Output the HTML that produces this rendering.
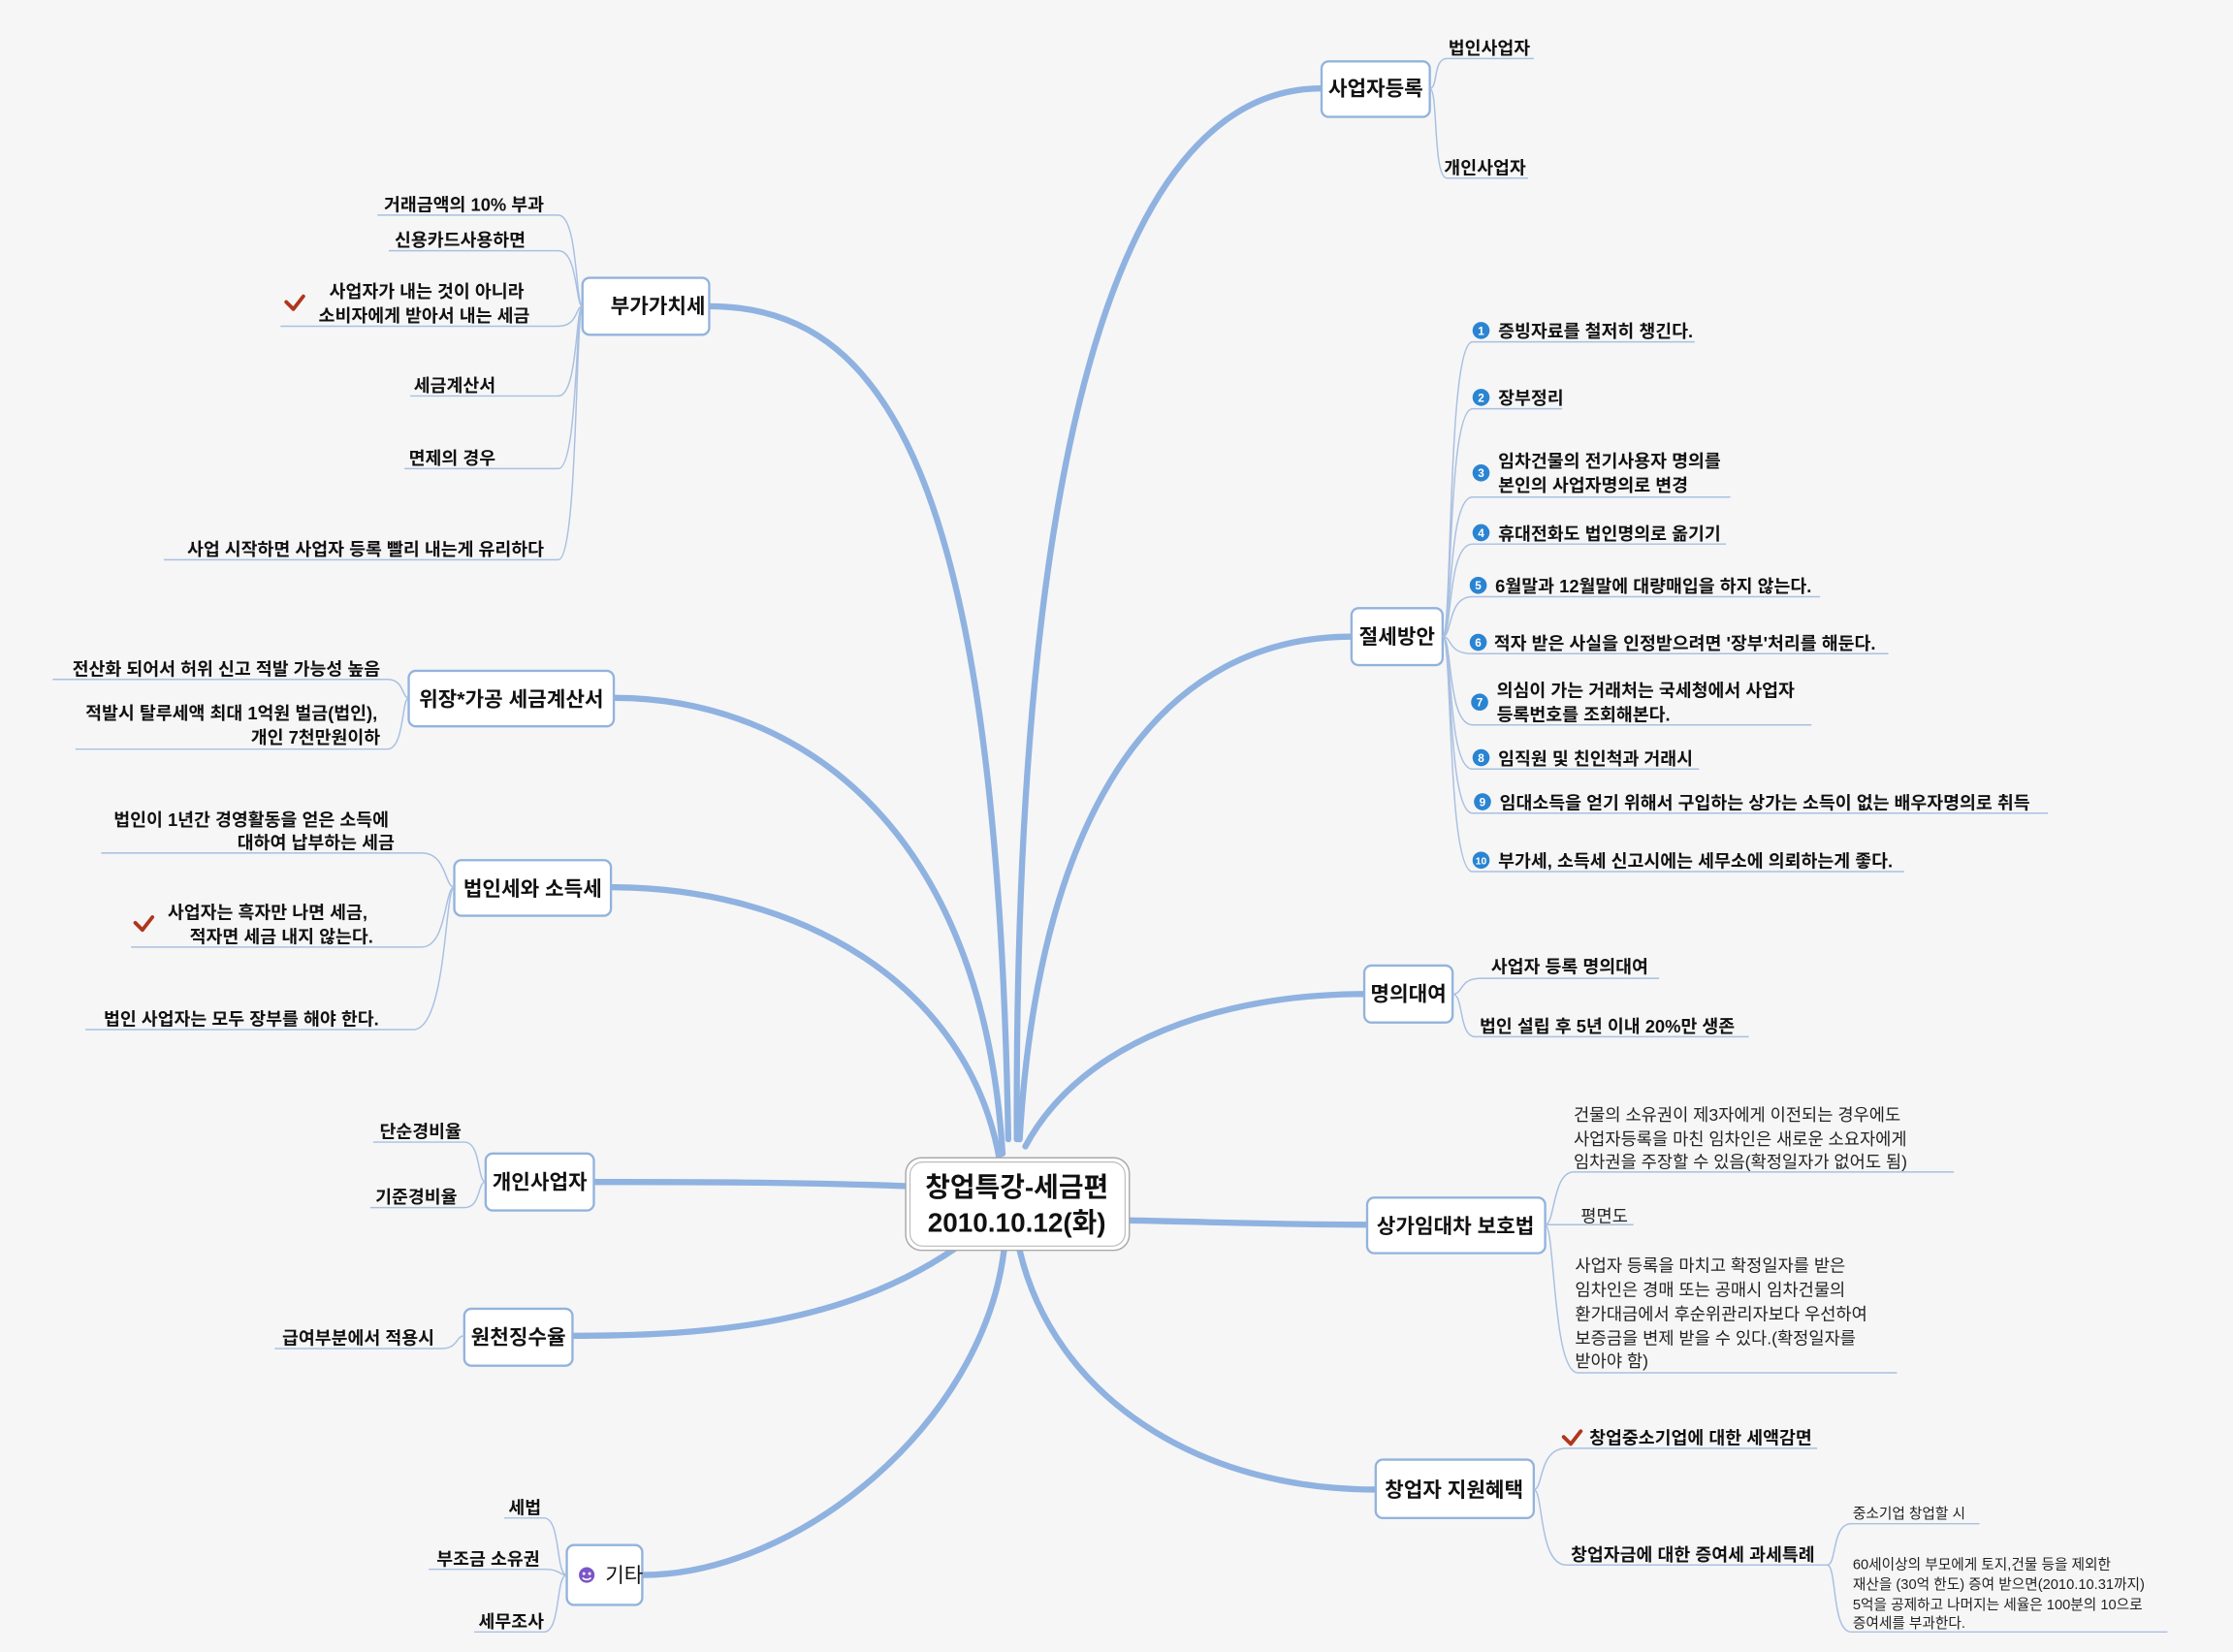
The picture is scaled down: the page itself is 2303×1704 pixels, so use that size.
<!DOCTYPE html>
<html><head><meta charset="utf-8"><style>
html,body{margin:0;padding:0;background:#f6f6f7;}
svg{display:block}
text{font-family:"Liberation Sans","Noto Sans CJK KR",sans-serif;fill:#111;}
.c{font-size:12.5px;font-weight:700}
.g{font-size:12px;font-weight:400;fill:#222}
.s{font-size:10px;font-weight:400;fill:#222}
.m{font-size:14.5px;font-weight:700}
.b{fill:none;stroke:#8fb2e0;stroke-width:4.3;stroke-linecap:round}
.t{fill:none;stroke:#a9c0e0;stroke-width:1}
.n{fill:#fff;stroke:#93b3dc;stroke-width:1.6}
.num{fill:#2a84d2}
.nt{font-size:8px;font-weight:700;fill:#fff;text-anchor:middle}
.ck{fill:none;stroke:#b0361c;stroke-width:2.6;stroke-linecap:round;stroke-linejoin:round}
</style></head><body>
<svg width="2303" height="1704" viewBox="0 0 1568 1160" xmlns="http://www.w3.org/2000/svg">
<rect width="1568" height="1160" fill="#f6f6f7"/>
<g class="b">
<path d="M714 800 C712 300 790 62 928 62"/>
<path d="M708 800 C700 330 620 215 498 215"/>
<path d="M704 810 C690 580 560 490 431 490"/>
<path d="M702 815 C680 690 560 623 429 623"/>
<path d="M640 833 C560 830 480 830 417 830"/>
<path d="M680 870 C600 930 500 938 402 938"/>
<path d="M705 878 C690 1000 560 1106 451 1106"/>
<path d="M716 800 C730 560 820 447 949 447"/>
<path d="M720 805 C760 730 860 698 958 698"/>
<path d="M792 857 C850 858 900 860 960 860"/>
<path d="M716 878 C740 980 840 1046 966 1046"/>
</g>
<rect x="636" y="813" width="157" height="65" rx="11" fill="#fff" stroke="#aaa" stroke-width="1"/>
<rect x="639" y="816" width="151" height="59" rx="9" fill="#fff" stroke="#bbb" stroke-width="0.8"/>
<text x="714" y="840" font-size="19" font-weight="700" text-anchor="middle">창업특강-세금편</text>
<text x="714" y="865" font-size="19" font-weight="700" text-anchor="middle">2010.10.12(화)</text>

<rect class="n" x="928" y="43" width="76" height="39" rx="5"/>
<text class="m" x="966" y="67" text-anchor="middle">사업자등록</text>
<path class="t" d="M1004 62 C1010 62 1006 41 1016 41 L1077 41"/>
<path class="t" d="M1004 62 C1010 62 1006 125 1016 125 L1073 125"/>
<text class="c" x="1017" y="38">법인사업자</text>
<text class="c" x="1014" y="122">개인사업자</text>

<rect class="n" x="409" y="195" width="89" height="40" rx="5"/>
<text class="m" x="462" y="220" text-anchor="middle">부가가치세</text>
<g class="t">
<path d="M409 215 C404 215 406 151 392 151 L265 151"/>
<path d="M409 215 C404 215 406 176 392 176 L273 176"/>
<path d="M409 215 C404 215 406 229 392 229 L197 229"/>
<path d="M409 215 C404 215 406 278 392 278 L288 278"/>
<path d="M409 215 C404 215 406 329 392 329 L284 329"/>
<path d="M409 215 C404 215 406 393 392 393 L115 393"/>
</g>
<text class="c" x="382" y="148" text-anchor="end">거래금액의 10% 부과</text>
<text class="c" x="369" y="173" text-anchor="end">신용카드사용하면</text>
<text class="c" x="368" y="209" text-anchor="end">사업자가 내는 것이 아니라</text>
<text class="c" x="372" y="226" text-anchor="end">소비자에게 받아서 내는 세금</text>
<path class="ck" d="M201 212 L206 217 L213 208"/>
<text class="c" x="348" y="275" text-anchor="end">세금계산서</text>
<text class="c" x="348" y="326" text-anchor="end">면제의 경우</text>
<text class="c" x="382" y="390" text-anchor="end">사업 시작하면 사업자 등록 빨리 내는게 유리하다</text>

<rect class="n" x="287" y="471" width="144" height="39" rx="5"/>
<text class="m" x="359" y="496" text-anchor="middle">위장*가공 세금계산서</text>
<g class="t">
<path d="M287 490 C282 490 284 477 272 477 L37 477"/>
<path d="M287 490 C282 490 284 526 272 526 L53 526"/>
</g>
<text class="c" x="267" y="474" text-anchor="end">전산화 되어서 허위 신고 적발 가능성 높음</text>
<text class="c" x="265" y="505" text-anchor="end">적발시 탈루세액 최대 1억원 벌금(법인),</text>
<text class="c" x="267" y="522" text-anchor="end">개인 7천만원이하</text>

<rect class="n" x="319" y="604" width="110" height="39" rx="5"/>
<text class="m" x="374" y="629" text-anchor="middle">법인세와 소득세</text>
<g class="t">
<path d="M319 623 C312 623 314 599 296 599 L71 599"/>
<path d="M319 623 C312 623 314 665 296 665 L92 665"/>
<path d="M319 623 C312 623 314 723 290 723 L60 723"/>
</g>
<text class="c" x="273" y="580" text-anchor="end">법인이 1년간 경영활동을 얻은 소득에</text>
<text class="c" x="277" y="596" text-anchor="end">대하여 납부하는 세금</text>
<path class="ck" d="M95 648 L100 653 L107 644"/>
<text class="c" x="258" y="645" text-anchor="end">사업자는 흑자만 나면 세금,</text>
<text class="c" x="262" y="662" text-anchor="end">적자면 세금 내지 않는다.</text>
<text class="c" x="266" y="720" text-anchor="end">법인 사업자는 모두 장부를 해야 한다.</text>

<rect class="n" x="341" y="810" width="76" height="40" rx="5"/>
<text class="m" x="379" y="835" text-anchor="middle">개인사업자</text>
<g class="t">
<path d="M341 830 C335 830 338 802 326 802 L262 802"/>
<path d="M341 830 C335 830 338 848 326 848 L260 848"/>
</g>
<text class="c" x="324" y="799" text-anchor="end">단순경비율</text>
<text class="c" x="321" y="845" text-anchor="end">기준경비율</text>

<rect class="n" x="326" y="919" width="76" height="40" rx="5"/>
<text class="m" x="364" y="944" text-anchor="middle">원천징수율</text>
<path class="t" d="M326 938 C320 938 322 947 310 947 L193 947"/>
<text class="c" x="305" y="944" text-anchor="end">급여부분에서 적용시</text>

<rect class="n" x="398" y="1085" width="53" height="42" rx="5"/>
<circle cx="412" cy="1106" r="5.5" fill="#7b55c8"/>
<circle cx="410" cy="1105" r="1" fill="#fff"/><circle cx="414" cy="1105" r="1" fill="#fff"/>
<path d="M409 1108 Q412 1110.5 415 1108" stroke="#fff" stroke-width="1" fill="none"/>
<text x="425" y="1111" style="font-size:14.5px;font-weight:400">기타</text>
<g class="t">
<path d="M398 1106 C390 1106 394 1066 382 1066 L354 1066"/>
<path d="M398 1106 C392 1106 394 1102 382 1102 L301 1102"/>
<path d="M398 1106 C390 1106 394 1146 382 1146 L333 1146"/>
</g>
<text class="c" x="380" y="1063" text-anchor="end">세법</text>
<text class="c" x="379" y="1099" text-anchor="end">부조금 소유권</text>
<text class="c" x="382" y="1143" text-anchor="end">세무조사</text>

<rect class="n" x="949" y="427" width="64" height="40" rx="5"/>
<text class="m" x="981" y="452" text-anchor="middle">절세방안</text>
<g class="t">
<path d="M1013 447 C1020 447 1016 240 1034 240 L1190 240"/>
<path d="M1013 447 C1020 447 1016 287 1034 287 L1097 287"/>
<path d="M1013 447 C1020 447 1016 349 1034 349 L1215 349"/>
<path d="M1013 447 C1020 447 1016 382 1034 382 L1212 382"/>
<path d="M1013 447 C1020 447 1016 419 1034 419 L1278 419"/>
<path d="M1013 447 C1020 447 1016 459 1034 459 L1326 459"/>
<path d="M1013 447 C1020 447 1016 509 1034 509 L1272 509"/>
<path d="M1013 447 C1020 447 1016 540 1034 540 L1193 540"/>
<path d="M1013 447 C1020 447 1016 571 1034 571 L1438 571"/>
<path d="M1013 447 C1020 447 1016 612 1034 612 L1337 612"/>
</g>
<g>
<circle class="num" cx="1040" cy="232" r="6"/><text class="nt" x="1040" y="235">1</text>
<circle class="num" cx="1040" cy="279" r="6"/><text class="nt" x="1040" y="282">2</text>
<circle class="num" cx="1040" cy="332" r="6"/><text class="nt" x="1040" y="335">3</text>
<circle class="num" cx="1040" cy="374" r="6"/><text class="nt" x="1040" y="377">4</text>
<circle class="num" cx="1038" cy="411" r="6"/><text class="nt" x="1038" y="414">5</text>
<circle class="num" cx="1038" cy="451" r="6"/><text class="nt" x="1038" y="454">6</text>
<circle class="num" cx="1039" cy="493" r="6"/><text class="nt" x="1039" y="496">7</text>
<circle class="num" cx="1040" cy="532" r="6"/><text class="nt" x="1040" y="535">8</text>
<circle class="num" cx="1041" cy="563" r="6"/><text class="nt" x="1041" y="566">9</text>
<circle class="num" cx="1040" cy="604" r="6"/><text class="nt" x="1040" y="607" style="font-size:7px">10</text>
</g>
<text class="c" x="1052" y="237">증빙자료를 철저히 챙긴다.</text>
<text class="c" x="1052" y="284">장부정리</text>
<text class="c" x="1052" y="328">임차건물의 전기사용자 명의를</text>
<text class="c" x="1052" y="345">본인의 사업자명의로 변경</text>
<text class="c" x="1052" y="379">휴대전화도 법인명의로 옮기기</text>
<text class="c" x="1050" y="416">6월말과 12월말에 대량매입을 하지 않는다.</text>
<text class="c" x="1049" y="456">적자 받은 사실을 인정받으려면 '장부'처리를 해둔다.</text>
<text class="c" x="1051" y="489">의심이 가는 거래처는 국세청에서 사업자</text>
<text class="c" x="1051" y="506">등록번호를 조회해본다.</text>
<text class="c" x="1052" y="537">임직원 및 친인척과 거래시</text>
<text class="c" x="1053" y="568">임대소득을 얻기 위해서 구입하는 상가는 소득이 없는 배우자명의로 취득</text>
<text class="c" x="1052" y="609">부가세, 소득세 신고시에는 세무소에 의뢰하는게 좋다.</text>

<rect class="n" x="958" y="678" width="62" height="40" rx="5"/>
<text class="m" x="989" y="703" text-anchor="middle">명의대여</text>
<g class="t">
<path d="M1020 698 C1028 698 1024 687 1040 687 L1165 687"/>
<path d="M1020 698 C1028 698 1024 728 1036 728 L1228 728"/>
</g>
<text class="c" x="1047" y="683">사업자 등록 명의대여</text>
<text class="c" x="1039" y="725">법인 설립 후 5년 이내 20%만 생존</text>

<rect class="n" x="960" y="841" width="125" height="39" rx="5"/>
<text class="m" x="1022" y="866" text-anchor="middle">상가임대차 보호법</text>
<g class="t">
<path d="M1085 860 C1092 860 1090 823 1105 823 L1372 823"/>
<path d="M1085 860 L1147 860"/>
<path d="M1085 860 C1092 860 1090 964 1108 964 L1332 964"/>
</g>
<text class="g" x="1105" y="787">건물의 소유권이 제3자에게 이전되는 경우에도</text>
<text class="g" x="1105" y="804">사업자등록을 마친 임차인은 새로운 소요자에게</text>
<text class="g" x="1105" y="820">임차권을 주장할 수 있음(확정일자가 없어도 됨)</text>
<text class="g" x="1110" y="858">평면도</text>
<text class="g" x="1106" y="893">사업자 등록을 마치고 확정일자를 받은</text>
<text class="g" x="1106" y="910">임차인은 경매 또는 공매시 임차건물의</text>
<text class="g" x="1106" y="927">환가대금에서 후순위관리자보다 우선하여</text>
<text class="g" x="1106" y="944">보증금을 변제 받을 수 있다.(확정일자를</text>
<text class="g" x="1106" y="960">받아야 함)</text>

<rect class="n" x="966" y="1025" width="111" height="41" rx="5"/>
<text class="m" x="1021" y="1051" text-anchor="middle">창업자 지원혜택</text>
<g class="t">
<path d="M1077 1046 C1084 1046 1080 1017 1100 1017 L1276 1017"/>
<path d="M1077 1046 C1084 1046 1080 1099 1100 1099 L1283 1099"/>
<path d="M1283 1099 C1290 1099 1286 1070 1300 1070 L1390 1070"/>
<path d="M1283 1099 C1290 1099 1286 1146 1300 1146 L1522 1146"/>
</g>
<path class="ck" d="M1098 1009 L1103 1014 L1110 1005"/>
<text class="c" x="1116" y="1014">창업중소기업에 대한 세액감면</text>
<text class="c" x="1103" y="1096">창업자금에 대한 증여세 과세특례</text>
<text class="s" x="1301" y="1066">중소기업 창업할 시</text>
<text class="s" x="1301" y="1102">60세이상의 부모에게 토지,건물 등을 제외한</text>
<text class="s" x="1301" y="1116">재산을 (30억 한도) 증여 받으면(2010.10.31까지)</text>
<text class="s" x="1301" y="1130">5억을 공제하고 나머지는 세율은 100분의 10으로</text>
<text class="s" x="1301" y="1143">증여세를 부과한다.</text>
</svg>
</body></html>
